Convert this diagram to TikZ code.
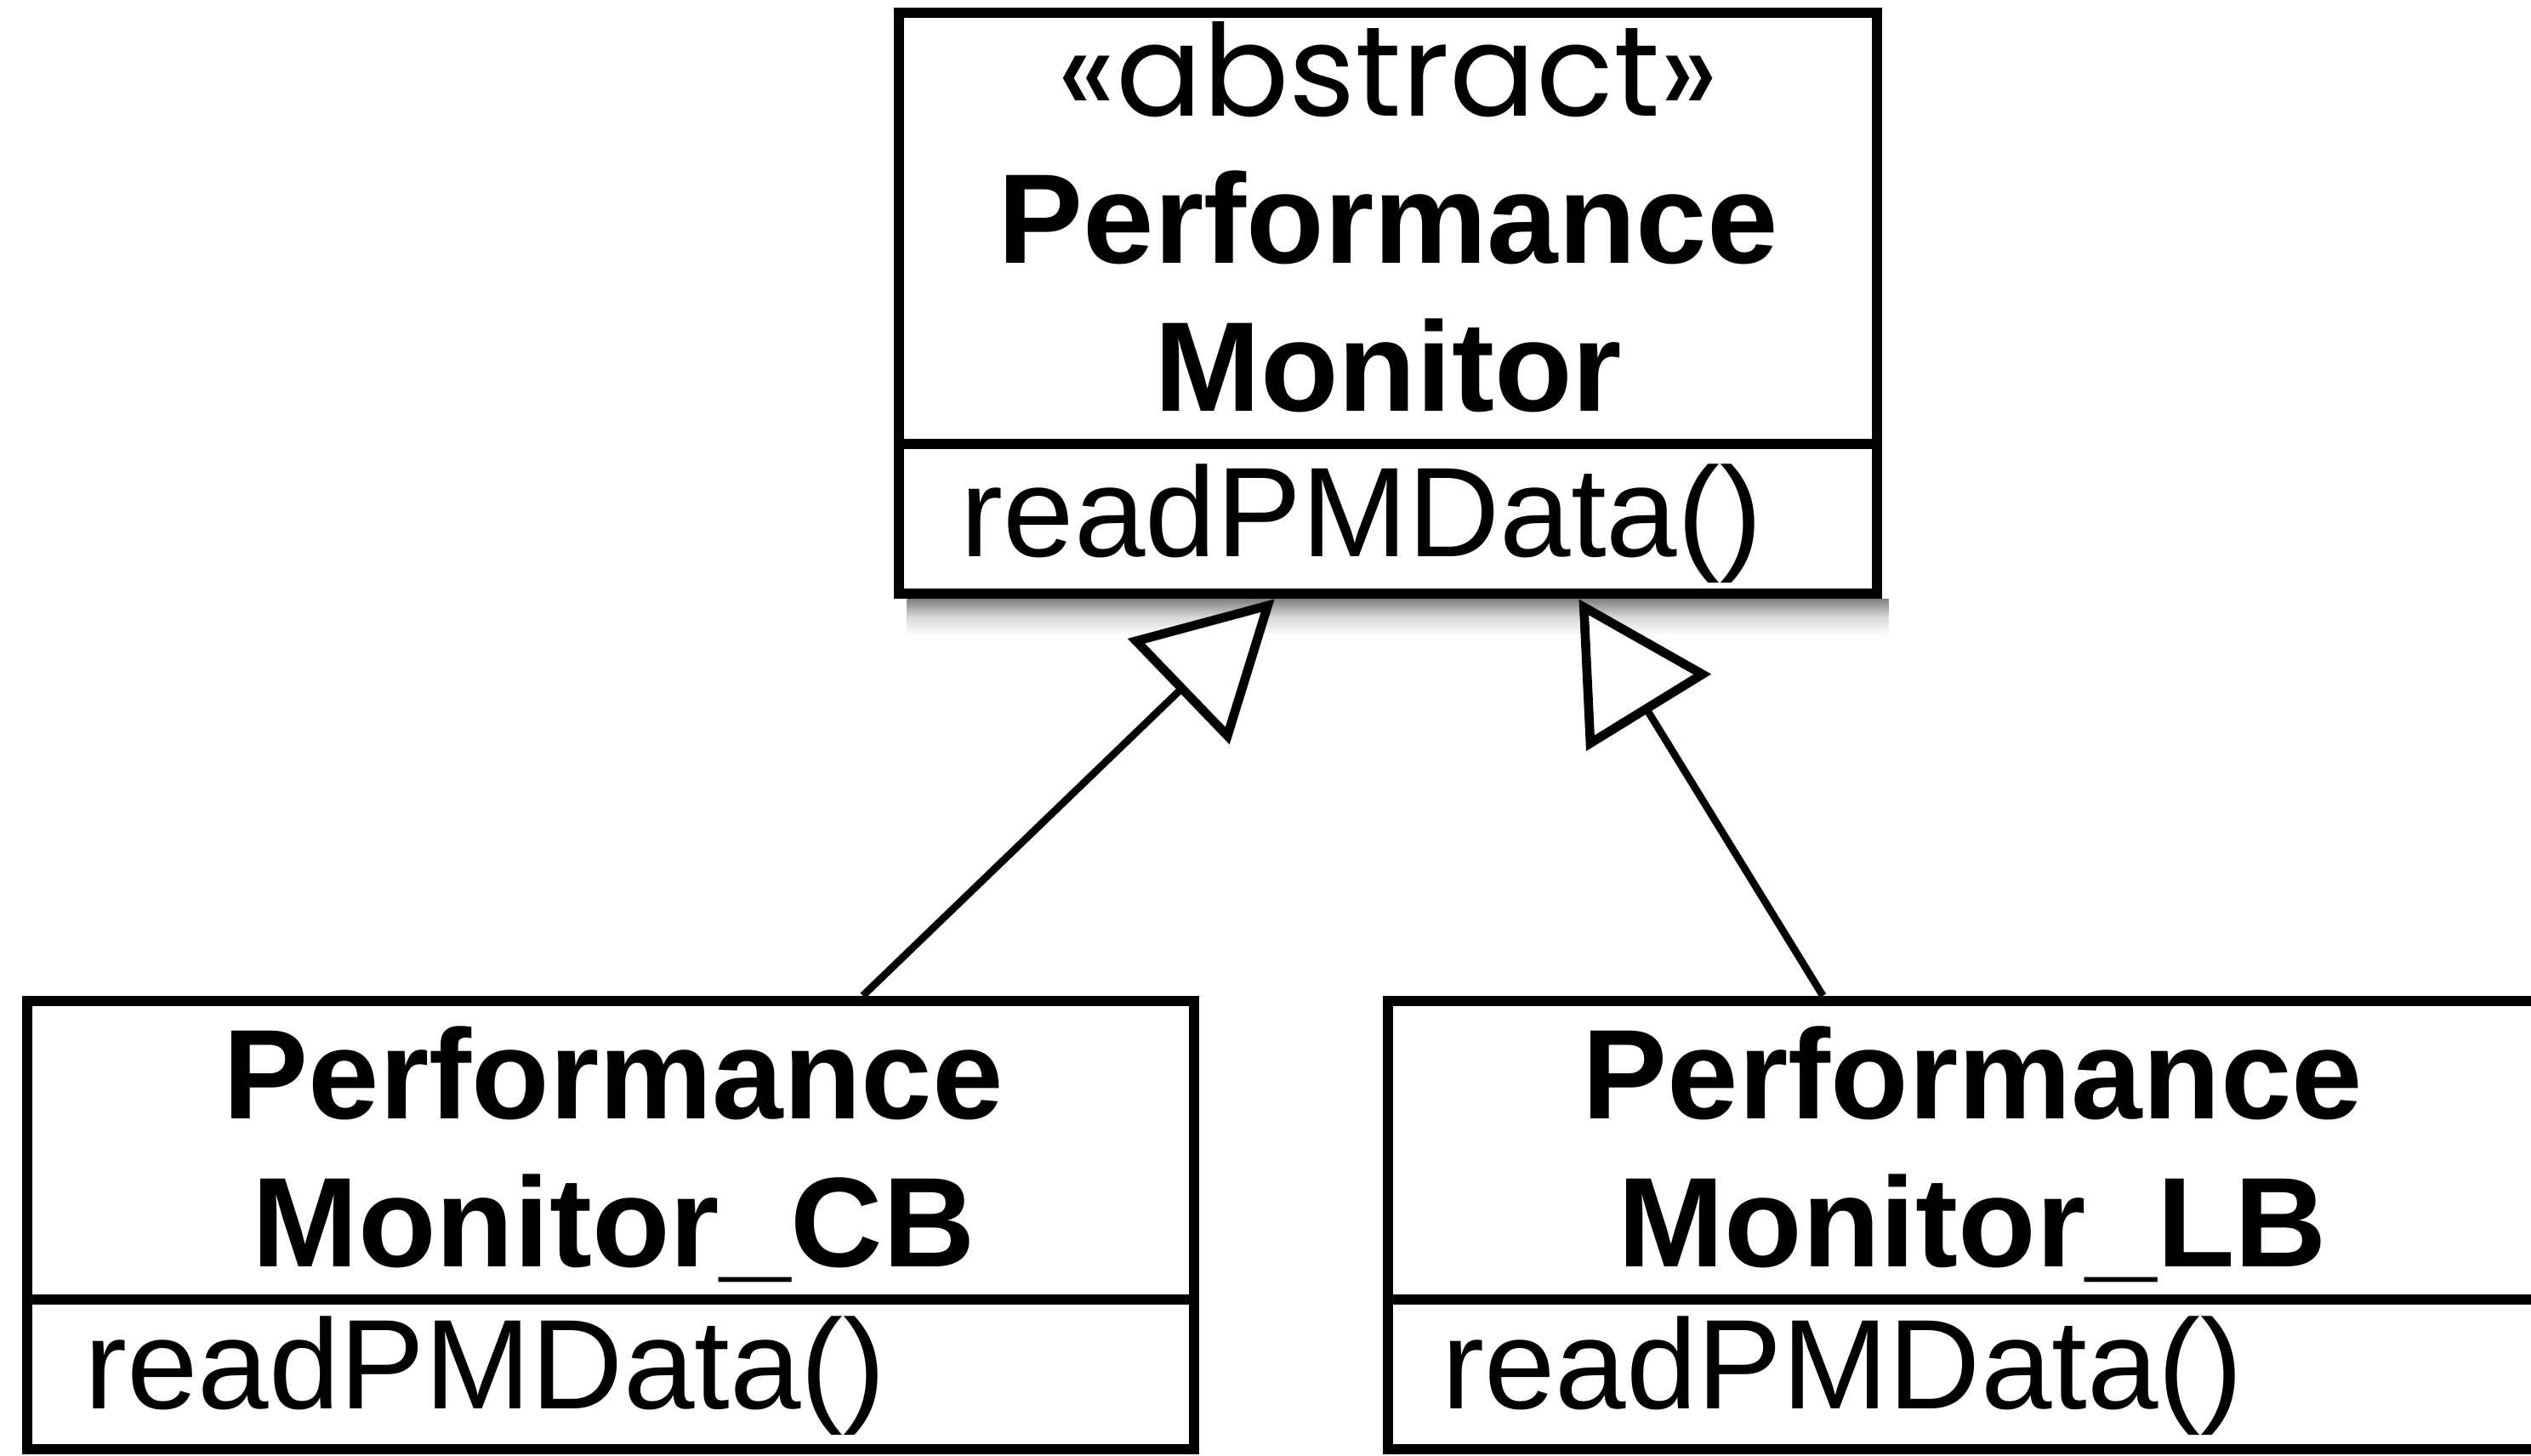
\documentclass[tikz,border=0pt]{standalone}
\usepackage{fontspec}
\setmainfont{Liberation Sans}
\newfontfamily\geofont{Poppins}
\usetikzlibrary{arrows.meta,calc}

\begin{document}
\begin{tikzpicture}[x=0.02cm,y=-0.02cm,
  classbox/.style={draw=black, line width=3.6pt, fill=white, inner sep=0pt,
    rectangle},
  divider/.style={draw=black, line width=3.6pt},
  classname/.style={anchor=base, inner sep=0pt,
    font=\fontsize{45pt}{54pt}\selectfont\bfseries},
  member/.style={anchor=base west, inner sep=0pt,
    font=\fontsize{45pt}{54pt}\selectfont},
  stereo/.style={anchor=base, inner sep=0pt,
    font=\geofont\fontsize{45pt}{54pt}\selectfont},
  inherit/.style={draw=black, line width=2.6pt,
    -{Triangle[open, length=47pt, width=51pt, fill=white, line width=3.2pt]}}]

\useasboundingbox (0,0) rectangle (1568,902);
\fill[white] (0,0) rectangle (1568,902);

% soft shadow under the abstract class
\shade[top color=black!50, bottom color=white, middle color=black!15]
  (562,371) rectangle (1170,394);

% class boxes
\node[classbox, minimum width=12.12cm, minimum height=7.2cm] (top) at (860,188) {};
\node[classbox, minimum width=14.46cm, minimum height=5.56cm] (cb) at (378.5,759) {};
\node[classbox, minimum width=14.6cm, minimum height=5.56cm] (lb) at (1225,759) {};

% compartment separators
\draw[divider] (top.west |- 0,275) -- (top.east |- 0,275);
\draw[divider] (cb.west |- 0,805) -- (cb.east |- 0,805);
\draw[divider] (lb.west |- 0,805) -- (lb.east |- 0,805);

% abstract class
\node[stereo] (topst) at (860,72) {«abstract»};
\node[classname] (topn1) at (860,163) {Performance};
\node[classname] (topn2) at (860,255) {Monitor};
\node[member] (topm) at (595,345) {readPMData()};

% concrete subclasses
\node[classname] (cbn1) at (380,693) {Performance};
\node[classname] (cbn2) at (380,785) {Monitor\_CB};
\node[member] (cbm) at (52,873) {readPMData()};

\node[classname] (lbn1) at (1222,693) {Performance};
\node[classname] (lbn2) at (1222,785) {Monitor\_LB};
\node[member] (lbm) at (893,873) {readPMData()};

% generalization arrows
\draw[inherit] ($(cb.north west)!0.714!(cb.north east)$)
  -- ($(top.south west)!0.385!(top.south east)$);
\draw[inherit] ($(lb.north west)!0.370!(lb.north east)$)
  -- ($(top.south west)!0.693!(top.south east)$);
\end{tikzpicture}
\end{document}
